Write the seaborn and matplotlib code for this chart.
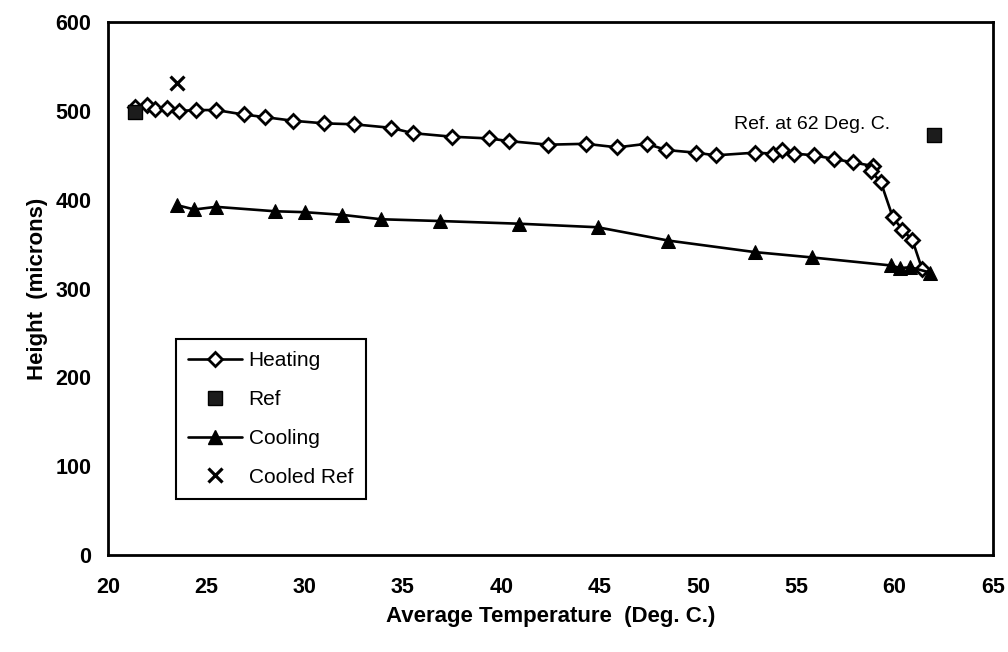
import matplotlib
matplotlib.use("Agg")
import matplotlib.pyplot as plt
import pandas as pd
import seaborn as sns
from matplotlib.lines import Line2D

# Heating run: average temperature (deg C) vs sample height (microns)
heat_temp = [21.4, 22.0, 22.4, 23.0, 23.6, 24.5, 25.5, 26.9, 28.0, 29.4,
             31.0, 32.5, 34.4, 35.5, 37.5, 39.4, 40.4, 42.4, 44.3, 45.9,
             47.4, 48.4, 49.9, 50.9, 52.9, 53.8, 54.3, 54.9, 55.9, 56.9,
             57.9, 58.9, 58.8, 59.3, 59.9, 60.4, 60.9, 61.4]
heat_height = [504, 507, 502, 503, 500, 501, 501, 496, 493, 489,
               486, 485, 481, 475, 471, 469, 466, 462, 463, 459,
               463, 456, 453, 450, 453, 452, 456, 452, 450, 446,
               442, 438, 432, 420, 381, 366, 355, 322]

# Cooling run
cool_temp = [23.5, 24.4, 25.5, 28.5, 30.0, 31.9, 33.9, 36.9, 40.9, 44.9,
             48.5, 52.9, 55.8, 59.8, 60.3, 60.8, 61.8]
cool_height = [394, 389, 392, 387, 386, 383, 378, 376, 373, 369,
               354, 341, 335, 326, 323, 324, 318]

# Reference measurements
ref_temp = [21.4, 62.0]
ref_height = [499, 473]
cooled_ref_temp = [23.5]
cooled_ref_height = [531]

x_ticks = [20, 25, 30, 35, 40, 45, 50, 55, 60, 65]
y_ticks = [0, 100, 200, 300, 400, 500, 600]

heat = pd.DataFrame({"temp": heat_temp, "height": heat_height})
cool = pd.DataFrame({"temp": cool_temp, "height": cool_height})
ref = pd.DataFrame({"temp": ref_temp, "height": ref_height})
cref = pd.DataFrame({"temp": cooled_ref_temp, "height": cooled_ref_height})

sns.set_theme(style="white")
plt.rcParams["font.family"] = ["Liberation Sans", "DejaVu Sans"]
plt.rcParams["text.color"] = "black"

fig = plt.figure(figsize=(10.08, 6.52), dpi=100)
ax = fig.add_axes([0.107, 0.149, 0.878, 0.817])

lw = 1.9
sns.lineplot(data=heat, x="temp", y="height", sort=False, estimator=None,
             color="black", linewidth=lw, marker="D", markersize=7.5,
             markerfacecolor="white", markeredgecolor="black",
             markeredgewidth=2.0, ax=ax, zorder=3)
sns.lineplot(data=cool, x="temp", y="height", sort=False, estimator=None,
             color="black", linewidth=lw, marker="^", markersize=10,
             markerfacecolor="black", markeredgecolor="black", ax=ax, zorder=3)
sns.scatterplot(data=ref, x="temp", y="height", marker="s", s=100,
                color="#1c1c1c", edgecolor="black", linewidth=1, ax=ax, zorder=4)
sns.scatterplot(data=cref, x="temp", y="height", marker="x", s=100,
                color="black", linewidth=2.3, ax=ax, zorder=4)

ax.text(55.8, 485, "Ref. at 62 Deg. C.", ha="center", va="center",
        fontsize=14, color="black")

ax.set_xlim(20, 65)
ax.set_ylim(0, 600)
ax.set_xticks(x_ticks)
ax.set_yticks(y_ticks)
ax.tick_params(axis="both", direction="inout", length=8, width=1.3,
               color="black", labelsize=15.5, labelcolor="black")
ax.tick_params(axis="x", pad=12)
ax.tick_params(axis="y", pad=8)
for lab in ax.get_xticklabels() + ax.get_yticklabels():
    lab.set_fontweight("bold")

for sp in ax.spines.values():
    sp.set_visible(True)
    sp.set_color("black")
    sp.set_linewidth(2.0)

ax.set_xlabel("Average Temperature  (Deg. C.)", fontsize=16,
              fontweight="bold", labelpad=6, color="black")
ax.set_ylabel("Height  (microns)", fontsize=16, fontweight="bold",
              labelpad=5, color="black")

handles = [
    Line2D([], [], color="black", lw=lw, marker="D", markersize=7.5,
           markerfacecolor="white", markeredgecolor="black",
           markeredgewidth=2.0),
    Line2D([], [], lw=0, marker="s", markersize=10,
           markerfacecolor="#1c1c1c", markeredgecolor="black"),
    Line2D([], [], color="black", lw=lw, marker="^", markersize=10,
           markerfacecolor="black", markeredgecolor="black"),
    Line2D([], [], lw=0, marker="x", markersize=10, color="black",
           markeredgewidth=2.3),
]
labels = ["Heating", "Ref", "Cooling", "Cooled Ref"]
leg = ax.legend(handles, labels, loc="lower left",
                bbox_to_anchor=(0.065, 0.085), fontsize=15,
                frameon=True, fancybox=False, framealpha=1,
                edgecolor="black", handlelength=2.6, handletextpad=0.3,
                labelspacing=0.95, borderpad=0.6, labelcolor="black")
leg.get_frame().set_linewidth(1.5)

fig.savefig("out.png", dpi=100, facecolor="white")
